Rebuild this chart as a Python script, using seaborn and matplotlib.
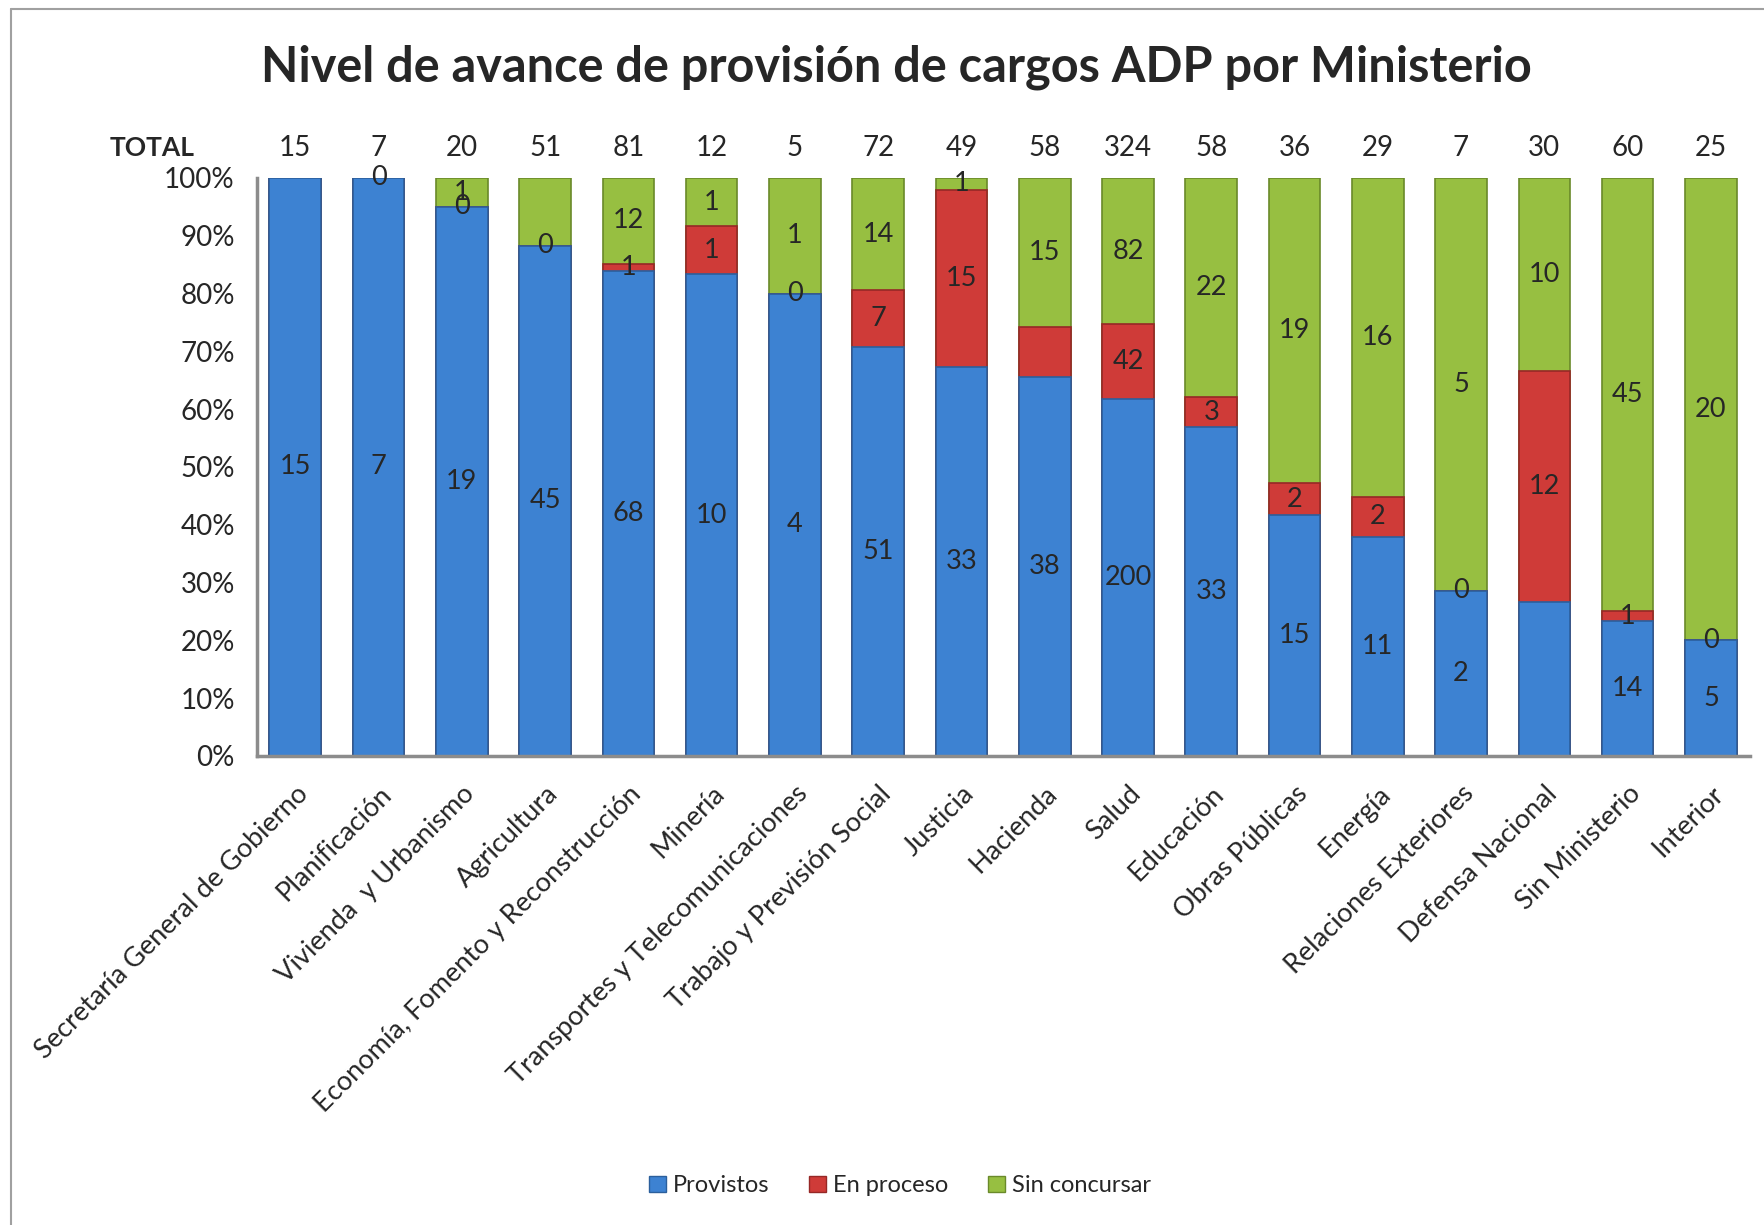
import numpy as np
import matplotlib
matplotlib.use('Agg')
import matplotlib.pyplot as plt
import seaborn as sns
import pandas as pd
from matplotlib.patches import Patch
from matplotlib.lines import Line2D

# Datos por ministerio
ministerios = ["Secretaría General de Gobierno", "Planificación", "Vivienda  y Urbanismo",
               "Agricultura", "Economía, Fomento y Reconstrucción", "Minería",
               "Transportes y Telecomunicaciones", "Trabajo y Previsión Social", "Justicia",
               "Hacienda", "Salud", "Educación", "Obras Públicas", "Energía",
               "Relaciones Exteriores", "Defensa Nacional", "Sin Ministerio", "Interior"]
provistos = [15, 7, 19, 45, 68, 10, 4, 51, 33, 38, 200, 33, 15, 11, 2, 8, 14, 5]
en_proceso = [0, 0, 0, 0, 1, 1, 0, 7, 15, 5, 42, 3, 2, 2, 0, 12, 1, 0]
sin_concursar = [0, 0, 1, 6, 12, 1, 1, 14, 1, 15, 82, 22, 19, 16, 5, 10, 45, 20]

# Etiquetas que aparecen en el gráfico original (False = sin etiqueta)
ver_provistos = [True] * 15 + [False, True, True]
ver_proceso = [False, True, True, True, True, True, True, True, True, False,
               True, True, True, True, True, True, True, True]
ver_sin = [False, False, True, False] + [True] * 14

series = ["Provistos", "En proceso", "Sin concursar"]
colores = ["#3d82d2", "#cf3b38", "#97bf41"]
bordes = ["#2b5f9c", "#962826", "#6a8a2a"]

df = pd.DataFrame({"ministerio": ministerios, "Provistos": provistos,
                   "En proceso": en_proceso, "Sin concursar": sin_concursar})
df["total"] = df[series].sum(axis=1)
for s in series:
    df[s + "_pct"] = df[s] / df["total"] * 100
df["cum1"] = df["Provistos_pct"]
df["cum2"] = df["cum1"] + df["En proceso_pct"]
df["cum3"] = df["cum2"] + df["Sin concursar_pct"]

sns.set_style("white")
plt.rcParams['font.family'] = ['Lato', 'DejaVu Sans']

fig = plt.figure(figsize=(17.65, 12.25), dpi=100)
ax = fig.add_axes([0.1456, 0.3829, 0.8459, 0.4718])

# barras apiladas: se dibuja de la más alta a la más baja
for col, c, e in zip(["cum3", "cum2", "cum1"], colores[::-1], bordes[::-1]):
    sns.barplot(data=df, x="ministerio", y=col, order=ministerios, color=c,
                width=0.62, edgecolor=e, linewidth=1.2, saturation=1, ax=ax)

ax.set_xlim(-0.46, len(ministerios) - 0.53)
ax.set_ylim(0, 100)
ax.set_yticks(np.arange(0, 101, 10))
ax.set_yticklabels([f"{v}%" for v in range(0, 101, 10)], fontsize=20)
ax.set_xlabel("")
ax.set_ylabel("")
ax.tick_params(axis='y', length=0, pad=16)
ax.tick_params(axis='x', length=0, pad=18)
ax.set_xticks(range(len(ministerios)))
ax.set_xticklabels(ministerios, rotation=45, ha='right', va='top',
                   rotation_mode='anchor', fontsize=19.5)
for s in ["top", "right"]:
    ax.spines[s].set_visible(False)
for s in ["left", "bottom"]:
    ax.spines[s].set_color("#8c8c8c")
    ax.spines[s].set_linewidth(2.5)

# etiquetas de valores
for i, row in df.iterrows():
    pares = [
        (row["Provistos"], row["cum1"] / 2, ver_provistos[i]),
        (row["En proceso"], (row["cum1"] + row["cum2"]) / 2, ver_proceso[i]),
        (row["Sin concursar"], (row["cum2"] + row["cum3"]) / 2, ver_sin[i]),
    ]
    for val, ypos, ver in pares:
        if ver:
            ax.text(i, ypos, f"{int(val)}", ha='center', va='center', fontsize=19.5)
    ax.text(i, 1.052, f"{int(row['total'])}", transform=ax.get_xaxis_transform(),
            ha='center', va='center', fontsize=20)
ax.text(-0.07, 1.052, "TOTAL", transform=ax.transAxes, ha='center', va='center',
        fontsize=19, fontweight='bold')

fig.suptitle("Nivel de avance de provisión de cargos ADP por Ministerio",
             x=0.508, y=0.945, va='center', fontsize=35, fontweight='bold')

handles = [Patch(facecolor=c, edgecolor=e) for c, e in zip(colores, bordes)]
fig.legend(handles, series, loc='center', bbox_to_anchor=(0.51, 0.032), ncol=3,
           frameon=False, fontsize=17, handlelength=0.7, handleheight=0.7,
           handletextpad=0.3, columnspacing=1.7)

# marco exterior del gráfico
fig.add_artist(Line2D([0.006, 0.006], [0, 0.993], color="#a0a0a0", lw=1.5,
                      transform=fig.transFigure))
fig.add_artist(Line2D([0.006, 1.0], [0.993, 0.993], color="#a0a0a0", lw=1.5,
                      transform=fig.transFigure))

fig.savefig("out.png", dpi=100)
